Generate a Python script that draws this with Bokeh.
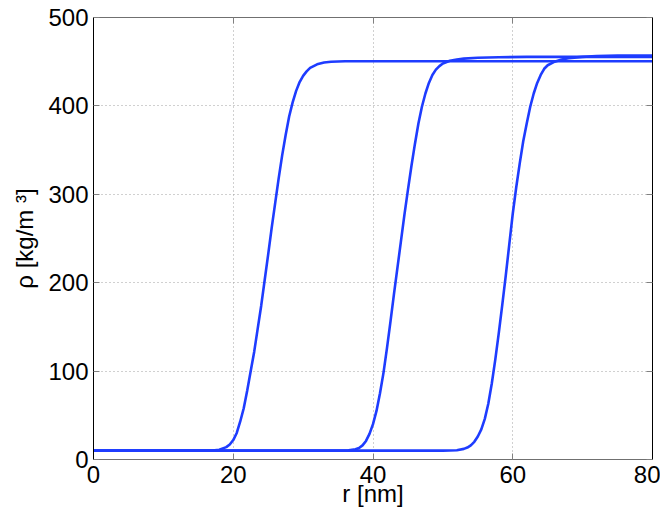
from bokeh.plotting import figure
from bokeh.models import Range1d, FixedTicker, LinearAxis, CustomJSTickFormatter
from bokeh.embed import file_html
from bokeh.resources import INLINE

# ---- data ----
r1 = [0, 5, 10, 15, 17, 18, 19, 19.5, 20, 20.5, 21, 21.5, 22, 22.5, 23, 23.5, 24, 24.5, 25, 25.5,
      26, 26.5, 27, 27.5, 28, 28.5, 29, 29.5, 30, 30.5, 31, 32, 33, 34, 36, 40, 50, 60, 70, 80]
rho1 = [10, 10, 10, 10, 10.2, 11, 14, 17, 22, 30, 43, 58, 78, 100, 122, 148, 174, 203, 232, 262,
        290, 318, 344, 367, 388, 404, 417, 427, 434, 439, 443, 447, 449, 450, 450.5, 450.5, 450.5, 450.5, 450.5, 450.5]

r2 = [0, 10, 20, 30, 35, 36.5, 37.5, 38, 38.5, 39, 39.5, 40, 40.5, 41, 41.5, 42, 42.5, 43, 43.5, 44,
      44.5, 45, 45.5, 46, 46.5, 47, 47.5, 48, 48.5, 49, 49.5, 50, 51, 52, 53, 55, 58, 62, 70, 80]
rho2 = [10, 10, 10, 10, 10, 10.5, 11.5, 13, 16, 21, 29, 40, 55, 75, 98, 126, 156, 187, 217, 247,
        277, 305, 332, 357, 380, 399, 414, 426, 435, 441, 445, 448, 451, 452.5, 453.5, 454.5, 455, 455.5, 455.5, 455.5]

r3 = [0, 10, 20, 30, 40, 50, 52, 53, 53.5, 54, 54.5, 55, 55.5, 56, 56.5, 57, 57.5, 58, 58.5, 59,
      59.5, 60, 60.5, 61, 61.5, 62, 62.5, 63, 63.5, 64, 64.5, 65, 66, 67, 68, 70, 72, 75, 80]
rho3 = [10, 10, 10, 10, 10, 10, 10.5, 12, 13.5, 16, 20, 26, 34, 46, 63, 86, 113, 143, 175, 208,
        243, 278, 308, 335, 360, 380, 399, 414, 426, 435, 442, 446, 450, 452.5, 454, 455.5, 456.5, 457, 457]

x_ticks = [0, 20, 40, 60, 80]
y_ticks = [0, 100, 200, 300, 400, 500]
x_label = "r [nm]"
y_label = "ρ [kg/m ³]"

FONT = "Liberation Sans"
FS = "24px"
BLUE = "#1e3cff"

p = figure(width=660, height=510, output_backend="svg", toolbar_location=None,
           x_range=Range1d(0, 80), y_range=Range1d(0, 500),
           min_border_left=93, min_border_right=8, min_border_top=17, min_border_bottom=51,
           x_axis_label=x_label, y_axis_label=y_label)
p.outline_line_color = None
p.background_fill_color = "white"
p.border_fill_color = "white"

for r, rho in [(r1, rho1), (r2, rho2), (r3, rho3)]:
    p.line(r, rho, line_color=BLUE, line_width=2.6)

p.xaxis.ticker = FixedTicker(ticks=x_ticks)
p.yaxis.ticker = FixedTicker(ticks=y_ticks)

for ax in [p.xaxis[0], p.yaxis[0]]:
    ax.major_label_text_font = FONT
    ax.major_label_text_font_size = FS
    ax.major_label_text_color = "black"
    ax.axis_label_text_font = FONT
    ax.axis_label_text_font_size = FS
    ax.axis_label_text_font_style = "normal"
    ax.axis_label_text_color = "black"
    ax.major_tick_in = 6
    ax.major_tick_out = 0
    ax.minor_tick_in = 0
    ax.minor_tick_out = 0
    ax.major_tick_line_color = "#808080"
p.xaxis.axis_line_color = "#707070"
p.yaxis.axis_line_color = "black"
p.xaxis.major_label_standoff = 6
p.yaxis.major_label_standoff = 5
p.xaxis.axis_label_standoff = -6
p.yaxis.axis_label_standoff = 7

# mirrored box axes (MATLAB style)
empty = CustomJSTickFormatter(code="return ''")
top = LinearAxis(ticker=FixedTicker(ticks=x_ticks), formatter=empty,
                 major_tick_in=6, major_tick_out=0, minor_tick_in=0, minor_tick_out=0,
                 major_tick_line_color="#808080", axis_line_color="#707070",
                 major_label_standoff=0, major_label_text_font_size="1px")
right = LinearAxis(ticker=FixedTicker(ticks=y_ticks), formatter=empty,
                   major_tick_in=6, major_tick_out=0, minor_tick_in=0, minor_tick_out=0,
                   major_tick_line_color="#808080", axis_line_color="black",
                   major_label_standoff=0, major_label_text_font_size="1px")
p.add_layout(top, "above")
p.add_layout(right, "right")

p.xgrid.ticker = FixedTicker(ticks=x_ticks)
p.ygrid.ticker = FixedTicker(ticks=y_ticks)
for g in [p.xgrid[0], p.ygrid[0]]:
    g.grid_line_color = "#a0a0a0"
    g.grid_line_dash = "1 3"
    g.grid_line_width = 1

open("out.html", "w").write(file_html(p, INLINE))
